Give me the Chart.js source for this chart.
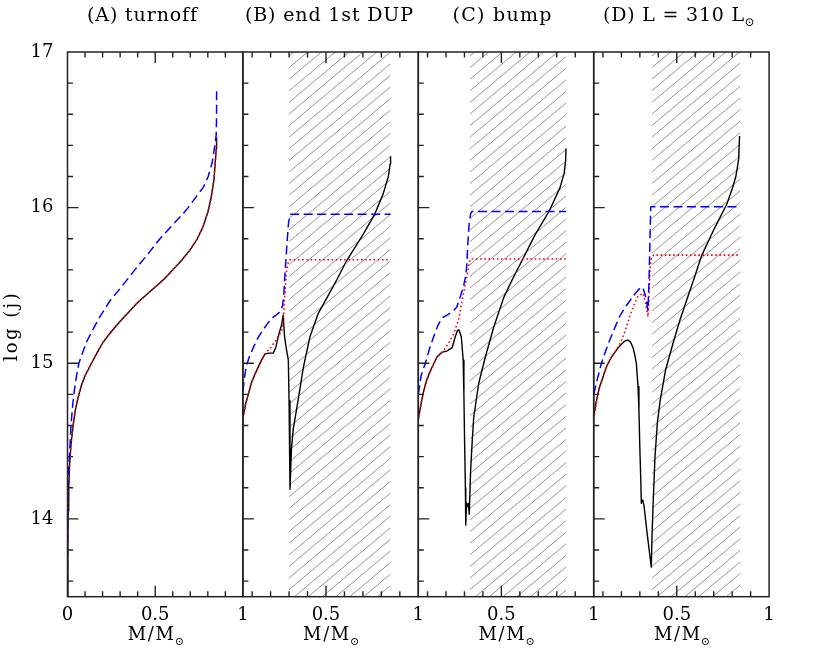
<!DOCTYPE html>
<html><head><meta charset="utf-8">
<script src="https://cdn.jsdelivr.net/npm/chart.js@4.4.1/dist/chart.umd.min.js"></script>
<style>
html,body{margin:0;padding:0;background:#fff;}
body{width:817px;height:654px;position:relative;overflow:hidden;}
canvas{position:absolute;left:0;top:0;}
</style></head>
<body>
<canvas id="c0" width="817" height="654"></canvas>
<canvas id="c1" width="817" height="654"></canvas>
<canvas id="c2" width="817" height="654"></canvas>
<canvas id="c3" width="817" height="654"></canvas>
<script>
// ---------------- DATA ----------------
const panelTitles = ["(A) turnoff", "(B) end 1st DUP", "(C) bump", "(D) L = 310 L"];
const panelTitleSubs = ["", "", "", "\u2299"];
const xAxisTitle = "M/M";
const xAxisTitleSub = "\u2299";
const yAxisTitle = "log (j)";
const panelXMin = [0, 0.05, 0.05, 0.05];
const panelXMax = [1, 1, 1, 1];
const yMin = 13.5, yMax = 17;
const xTickLabelsA = [0, 0.5, 1];
const xTickLabelsBCD = [0.5, 1];
const yTickLabels = [14, 15, 16, 17];
const xMajorTicks = [0.5];
const xMinorTicks = [0.1, 0.2, 0.3, 0.4, 0.6, 0.7, 0.8, 0.9];
const yMajorTicks = [14, 15, 16];
const yMinorTicks = [13.6, 13.8, 14.2, 14.4, 14.6, 14.8, 15.2, 15.4, 15.6, 15.8, 16.2, 16.4, 16.6, 16.8];
const hatchStart = [null, 0.30, 0.33, 0.365];
const hatchEnd = [null, 0.85, 0.85, 0.845];

// Panel A
const blackA = [[0,13.5],[0.002,13.85],[0.004,14.05],[0.007,14.2],[0.012,14.35],[0.02,14.48],[0.032,14.6],[0.045,14.7],[0.06,14.78],[0.08,14.86],[0.1,14.92],[0.137,15.0],[0.17,15.07],[0.2,15.13],[0.24,15.19],[0.3,15.27],[0.35,15.33],[0.4,15.39],[0.45,15.44],[0.5,15.49],[0.55,15.54],[0.6,15.6],[0.65,15.66],[0.7,15.73],[0.74,15.8],[0.77,15.87],[0.8,15.97],[0.82,16.07],[0.835,16.18],[0.843,16.3],[0.848,16.38],[0.85,16.45]];
const redA   = [[0,13.5],[0.002,13.85],[0.004,14.05],[0.007,14.2],[0.012,14.35],[0.02,14.48],[0.032,14.6],[0.045,14.7],[0.06,14.78],[0.08,14.86],[0.1,14.92],[0.137,15.0],[0.17,15.07],[0.2,15.13],[0.24,15.19],[0.3,15.27],[0.35,15.33],[0.4,15.39],[0.45,15.44],[0.5,15.49],[0.55,15.54],[0.6,15.6],[0.65,15.66],[0.7,15.73],[0.74,15.8],[0.77,15.87],[0.8,15.97],[0.82,16.07],[0.835,16.18],[0.843,16.3],[0.848,16.38],[0.85,16.45]];
const blueA  = [[0,13.5],[0.001,13.9],[0.003,14.15],[0.006,14.3],[0.012,14.42],[0.019,14.58],[0.027,14.7],[0.036,14.8],[0.05,14.91],[0.065,15.0],[0.09,15.08],[0.11,15.14],[0.137,15.2],[0.18,15.29],[0.241,15.4],[0.3,15.48],[0.384,15.6],[0.45,15.69],[0.527,15.8],[0.6,15.89],[0.65,15.95],[0.688,16.0],[0.74,16.08],[0.774,16.13],[0.802,16.2],[0.825,16.29],[0.84,16.4],[0.848,16.47],[0.85,16.6],[0.85,16.77]];

// Panel B
const blackB = [[0.05,14.65],[0.065,14.74],[0.079,14.80],[0.095,14.87],[0.115,14.93],[0.135,14.98],[0.151,15.02],[0.17,15.06],[0.19,15.065],[0.214,15.065],[0.228,15.10],[0.241,15.17],[0.26,15.25],[0.268,15.31],[0.275,15.18],[0.283,15.11],[0.296,15.02],[0.300,14.76],[0.305,14.19],[0.313,14.45],[0.323,14.58],[0.35,14.77],[0.377,14.97],[0.413,15.17],[0.458,15.32],[0.505,15.42],[0.56,15.54],[0.612,15.66],[0.66,15.75],[0.702,15.83],[0.765,15.96],[0.81,16.09],[0.838,16.20],[0.847,16.28],[0.85,16.33]];
const redB   = [[0.05,14.65],[0.065,14.74],[0.079,14.80],[0.095,14.87],[0.115,14.93],[0.135,14.98],[0.151,15.02],[0.17,15.06],[0.2,15.10],[0.23,15.15],[0.26,15.21],[0.268,15.25],[0.275,15.40],[0.285,15.58],[0.295,15.645],[0.305,15.665],[0.85,15.665]];
const blueB  = [[0.05,14.82],[0.06,14.92],[0.07,14.99],[0.088,15.05],[0.11,15.11],[0.13,15.16],[0.151,15.20],[0.18,15.25],[0.206,15.29],[0.23,15.31],[0.25,15.33],[0.265,15.37],[0.272,15.45],[0.278,15.58],[0.285,15.70],[0.29,15.79],[0.297,15.90],[0.305,15.957],[0.85,15.957]];

// Panel C
const blackC = [[0.05,14.64],[0.065,14.74],[0.079,14.82],[0.095,14.89],[0.115,14.95],[0.135,15.0],[0.151,15.04],[0.178,15.07],[0.206,15.08],[0.233,15.10],[0.25,15.17],[0.262,15.21],[0.27,15.215],[0.283,15.17],[0.293,15.02],[0.297,14.8],[0.300,14.55],[0.305,14.2],[0.307,13.96],[0.311,14.10],[0.316,14.08],[0.321,14.1],[0.326,14.03],[0.333,14.3],[0.342,14.5],[0.35,14.65],[0.377,14.87],[0.413,15.04],[0.458,15.23],[0.512,15.42],[0.56,15.54],[0.616,15.67],[0.68,15.82],[0.76,15.98],[0.818,16.13],[0.84,16.22],[0.848,16.3],[0.85,16.38]];
const redC   = [[0.05,14.64],[0.065,14.74],[0.079,14.82],[0.095,14.89],[0.115,14.95],[0.135,15.0],[0.151,15.04],[0.178,15.07],[0.21,15.12],[0.242,15.19],[0.268,15.28],[0.287,15.40],[0.30,15.48],[0.315,15.57],[0.325,15.64],[0.333,15.67],[0.85,15.67]];
const blueC  = [[0.05,14.80],[0.065,14.92],[0.088,15.0],[0.11,15.09],[0.133,15.17],[0.155,15.24],[0.178,15.29],[0.205,15.31],[0.233,15.33],[0.258,15.36],[0.275,15.42],[0.294,15.49],[0.305,15.55],[0.312,15.62],[0.318,15.76],[0.325,15.89],[0.333,15.96],[0.34,15.975],[0.85,15.975]];

// Panel D
const blackD = [[0.05,14.66],[0.065,14.76],[0.08,14.84],[0.10,14.91],[0.12,14.98],[0.146,15.04],[0.17,15.08],[0.19,15.11],[0.215,15.14],[0.236,15.15],[0.25,15.135],[0.263,15.10],[0.273,15.05],[0.281,15.0],[0.29,14.85],[0.295,14.7],[0.30,14.45],[0.305,14.25],[0.308,14.10],[0.312,14.12],[0.317,14.11],[0.322,14.09],[0.34,13.9],[0.362,13.69],[0.366,13.9],[0.372,14.1],[0.382,14.4],[0.395,14.62],[0.41,14.76],[0.44,14.96],[0.48,15.13],[0.515,15.27],[0.552,15.40],[0.595,15.55],[0.634,15.69],[0.697,15.85],[0.74,15.95],[0.77,16.02],[0.80,16.12],[0.82,16.2],[0.835,16.31],[0.84,16.46]];
const redD   = [[0.05,14.64],[0.065,14.75],[0.08,14.84],[0.10,14.91],[0.12,14.98],[0.146,15.04],[0.17,15.08],[0.19,15.12],[0.215,15.19],[0.245,15.30],[0.27,15.38],[0.29,15.43],[0.317,15.45],[0.33,15.39],[0.344,15.30],[0.35,15.45],[0.356,15.62],[0.362,15.68],[0.375,15.695],[0.845,15.695]];
const blueD  = [[0.05,14.80],[0.07,14.9],[0.092,15.0],[0.115,15.08],[0.137,15.15],[0.165,15.23],[0.19,15.30],[0.22,15.36],[0.245,15.40],[0.27,15.44],[0.29,15.47],[0.308,15.49],[0.318,15.48],[0.326,15.45],[0.336,15.40],[0.344,15.34],[0.35,15.55],[0.355,15.8],[0.359,16.005],[0.845,16.005]];

const panelSeries = [
  {black: blackA, red: redA, blue: blueA},
  {black: blackB, red: redB, blue: blueB},
  {black: blackC, red: redC, blue: blueC},
  {black: blackD, red: redD, blue: blueD}
];

// ---------------- STYLE / LAYOUT ----------------
const W = 817, H = 654;
const PANEL_LEFT = 67.5, PANEL_W = 175.4, PANEL_TOP = 52, PANEL_BOTTOM = 596.7;
const FONT = "'DejaVu Serif', 'Liberation Serif', serif";
const FRAME = '#222';
const titleCenters = [142, 329, 502, 679];
const titleWidths = [110, 168, 99, 152];

function drawSpaced(ctx, text, sub, cx, base, size, target, rotate) {
  ctx.save();
  ctx.fillStyle = '#000';
  ctx.textBaseline = 'alphabetic';
  ctx.textAlign = 'left';
  ctx.font = size + 'px ' + FONT;
  const chars = Array.from(text);
  let w0 = 0;
  chars.forEach(c => w0 += ctx.measureText(c).width);
  const subSize = Math.round(size * 0.62);
  let ws = 0;
  if (sub) { ctx.font = subSize + 'px ' + FONT; ws = ctx.measureText(sub).width; }
  const gaps = chars.length - 1 + (sub ? 1 : 0);
  const sp = gaps > 0 ? (target - w0 - ws) / gaps : 0;
  if (rotate) { ctx.translate(cx, base); ctx.rotate(-Math.PI / 2); cx = 0; base = 0; }
  let x = cx - target / 2;
  ctx.font = size + 'px ' + FONT;
  chars.forEach(c => { ctx.fillText(c, x, base); x += ctx.measureText(c).width + sp; });
  if (sub) { ctx.font = subSize + 'px ' + FONT; ctx.fillText(sub, x - sp * 0.5, base + size * 0.28); }
  ctx.restore();
}

const panelPlugin = {
  id: 'panelDeco',
  beforeDatasetsDraw(chart) {
    const i = chart.$panel;
    if (hatchStart[i] === null) return;
    const {ctx, chartArea: a, scales: {x}} = chart;
    const x0 = x.getPixelForValue(hatchStart[i]);
    const x1 = x.getPixelForValue(hatchEnd[i]);
    ctx.save();
    ctx.beginPath();
    ctx.rect(x0, a.top, x1 - x0, a.bottom - a.top);
    ctx.clip();
    ctx.strokeStyle = '#7a7a7a';
    ctx.lineWidth = 0.8;
    const slope = Math.tan(40 * Math.PI / 180);
    const gap = 11.6;
    const span = slope * (x1 - x0);
    ctx.beginPath();
    for (let c = a.top + 4; c < a.bottom + span + gap; c += gap) {
      ctx.moveTo(x0, c);
      ctx.lineTo(x1, c - span);
    }
    ctx.stroke();
    ctx.restore();
  },
  afterDraw(chart) {
    const i = chart.$panel;
    const {ctx, chartArea: a, scales: {x, y}} = chart;
    ctx.save();
    ctx.strokeStyle = FRAME;
    ctx.lineWidth = 1.4;
    ctx.beginPath();
    const majorLen = 11, minorLen = 5.5;
    xMajorTicks.concat(xMinorTicks).forEach(v => {
      if (v <= x.min || v >= x.max) return;
      const px = x.getPixelForValue(v);
      const len = xMajorTicks.includes(v) ? majorLen : minorLen;
      ctx.moveTo(px, a.bottom); ctx.lineTo(px, a.bottom - len);
      ctx.moveTo(px, a.top); ctx.lineTo(px, a.top + len);
    });
    yMajorTicks.concat(yMinorTicks).forEach(v => {
      const py = y.getPixelForValue(v);
      const len = yMajorTicks.includes(v) ? majorLen : minorLen;
      ctx.moveTo(a.left, py); ctx.lineTo(a.left + len, py);
    });
    ctx.stroke();
    ctx.lineWidth = 1.5;
    ctx.strokeRect(a.left, a.top, a.right - a.left, a.bottom - a.top);
    ctx.restore();
    // titles
    drawSpaced(ctx, panelTitles[i], panelTitleSubs[i], titleCenters[i], 21, 19, titleWidths[i]);
    drawSpaced(ctx, xAxisTitle, xAxisTitleSub, (a.left + a.right) / 2 + 1, 640, 18, 57);
    if (i === 0) drawSpaced(ctx, yAxisTitle, '', 17, (a.top + a.bottom) / 2 + 3, 18, 68, true);
  }
};

function mkDataset(pts, color, width, dash) {
  return {
    data: pts.map(p => ({x: p[0], y: p[1]})),
    borderColor: color, borderWidth: width, borderDash: dash,
    pointRadius: 0, fill: false, tension: 0, borderCapStyle: 'butt', borderJoinStyle: 'round'
  };
}

function makeChart(i) {
  const L = PANEL_LEFT + i * PANEL_W, R = L + PANEL_W;
  const isA = i === 0;
  const s = panelSeries[i];
  const chart = new Chart(document.getElementById('c' + i), {
    type: 'line',
    data: {datasets: [
      mkDataset(s.blue, '#0000ff', 1.5, [9, 4.5]),
      mkDataset(s.red, '#ff0000', 1.6, [1.6, 2.6]),
      mkDataset(s.black, '#000000', 1.4, [])
    ]},
    options: {
      responsive: false, animation: false, devicePixelRatio: 1,
      events: [],
      layout: {padding: {left: isA ? 0 : L, right: W - R, top: PANEL_TOP, bottom: 0}},
      plugins: {legend: {display: false}, tooltip: {enabled: false}, title: {display: false}},
      scales: {
        x: {
          type: 'linear', min: panelXMin[i], max: panelXMax[i],
          grid: {display: false, drawTicks: false}, border: {display: false},
          ticks: {font: {family: FONT, size: 18}, color: '#000', padding: 8, maxRotation: 0, autoSkip: false,
                  callback: v => String(v)},
          afterBuildTicks: sc => { sc.ticks = (isA ? xTickLabelsA : xTickLabelsBCD).map(v => ({value: v})); },
          afterFit: sc => { sc.height = H - PANEL_BOTTOM; sc.paddingLeft = 0; sc.paddingRight = 0; }
        },
        y: {
          type: 'linear', min: yMin, max: yMax, display: isA, position: 'left',
          grid: {display: false, drawTicks: false}, border: {display: false},
          ticks: {font: {family: FONT, size: 18}, color: '#000', padding: 14, autoSkip: false,
                  callback: v => String(v)},
          afterBuildTicks: sc => { sc.ticks = yTickLabels.map(v => ({value: v})); },
          afterFit: sc => { sc.width = isA ? PANEL_LEFT : 0; sc.paddingTop = 0; sc.paddingBottom = 0; }
        }
      }
    },
    plugins: [{id: 'panelIndex', beforeInit(c) { c.$panel = i; }}, panelPlugin]
  });
  return chart;
}

[0, 1, 2, 3].forEach(makeChart);
</script>
</body></html>
